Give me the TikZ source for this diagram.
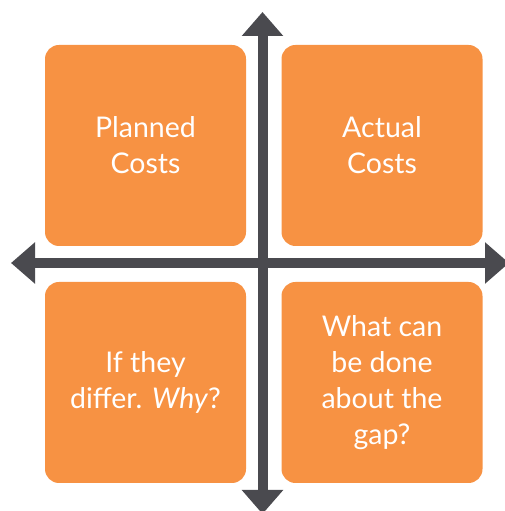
\documentclass[tikz,border=0pt]{standalone}
\usepackage{fontspec}
\setmainfont{Lato}
\usetikzlibrary{arrows.meta}
\definecolor{boxorange}{RGB}{247,146,67}
\definecolor{axisgray}{RGB}{74,74,79}
\begin{document}
\begin{tikzpicture}[x=1pt,y=1pt,
  quad/.style={fill=boxorange,draw=none,rounded corners=14pt,minimum width=201pt,minimum height=201pt,
    text=white,align=center,font=\fontsize{28.5}{36}\selectfont,inner sep=0pt},
  axis/.style={draw=axisgray,line width=10pt,-{Triangle[width=40pt,length=24pt]}}]
\useasboundingbox (0,0) rectangle (504,511);
\node[quad] (pc) at (145.5,365.5) {Planned\\Costs};
\node[quad] (ac) at (382,365.5) {Actual\\Costs};
\node[quad] (why) at (145.5,128.5) {If they\\differ. \textit{Why}?};
\node[quad] (gap) at (382,128.5) {What can\\be done\\about the\\gap?};
\coordinate (vtop) at (262.5,499);
\coordinate (vbot) at (262.5,-3);
\coordinate (hleft) at (11,248);
\coordinate (hright) at (509,248);
\coordinate (center) at (262.5,248);
\draw[axis] (center) -- (vtop);
\draw[axis] (center) -- (vbot);
\draw[axis] (center) -- (hleft);
\draw[axis] (center) -- (hright);
\end{tikzpicture}
\end{document}
